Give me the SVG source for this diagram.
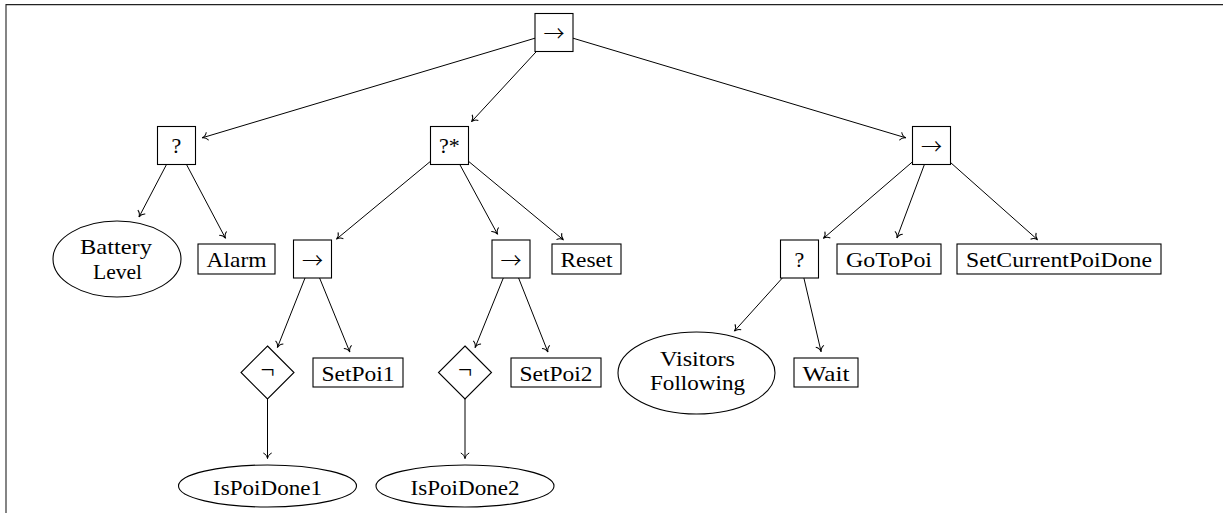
<svg xmlns="http://www.w3.org/2000/svg" width="1223" height="513" viewBox="0 0 1223 513">
<defs>
<marker id="arr" markerUnits="userSpaceOnUse" viewBox="-8 -6 10 12" markerWidth="10" markerHeight="12" refX="0" refY="0" orient="auto" overflow="visible">
<path d="M-5.5,-4.2 C-4.5,-1.8 -2,-0.4 0,0 C-2,0.4 -4.5,1.8 -5.5,4.2" fill="none" stroke="#000" stroke-width="1"/>
</marker>
<style>
.box{fill:#fff;stroke:#000;stroke-width:1.1}
.edge{stroke:#000;stroke-width:1;fill:none;marker-end:url(#arr)}
.t{font-family:"Liberation Serif","DejaVu Serif",serif;font-size:22px;fill:#000;text-anchor:middle}
.op{font-family:"Noto Sans CJK JP","DejaVu Sans",sans-serif;font-size:22px;font-weight:300;fill:#000;text-anchor:middle}
.neg{font-family:"Liberation Serif","DejaVu Serif",serif;font-size:25px;fill:#000;text-anchor:middle}
.frame{fill:none;stroke:#222;stroke-width:1.1}
</style>
</defs>
<rect x="0" y="0" width="1223" height="513" fill="#fff"/>
<path class="frame" d="M6,514 V4.6 H1224"/>
<g id="connectors">
<line class="edge" x1="535" y1="38.2" x2="202.2" y2="137.8"/>
<line class="edge" x1="536.4" y1="51.5" x2="471.5" y2="121.7"/>
<line class="edge" x1="573" y1="38.2" x2="905.8" y2="137.8"/>
<line class="edge" x1="166.5" y1="164.5" x2="139" y2="217"/>
<line class="edge" x1="186.5" y1="164.5" x2="225.5" y2="238.3"/>
<line class="edge" x1="430.5" y1="161.3" x2="336.5" y2="239.1"/>
<line class="edge" x1="459.8" y1="164.5" x2="497.6" y2="234.3"/>
<line class="edge" x1="468.5" y1="161.3" x2="563.4" y2="239.9"/>
<line class="edge" x1="912.5" y1="161.8" x2="823.4" y2="238.4"/>
<line class="edge" x1="924.4" y1="164.5" x2="896.9" y2="237.9"/>
<line class="edge" x1="950.5" y1="162.5" x2="1037.5" y2="239.7"/>
<line class="edge" x1="305" y1="278" x2="277.4" y2="347.5"/>
<line class="edge" x1="319.6" y1="278" x2="349.8" y2="352"/>
<line class="edge" x1="503.3" y1="278" x2="475.1" y2="347.6"/>
<line class="edge" x1="518.6" y1="278" x2="547.9" y2="352"/>
<line class="edge" x1="267.5" y1="399" x2="267.5" y2="458.5"/>
<line class="edge" x1="465" y1="399" x2="465" y2="458.5"/>
<line class="edge" x1="782.3" y1="278" x2="734.4" y2="331.1"/>
<line class="edge" x1="803.9" y1="278" x2="821.1" y2="351.7"/>
</g>
<g id="root"><rect class="box" x="535" y="13.5" width="38" height="38"/><text class="op" x="554" y="41" textLength="21" lengthAdjust="spacingAndGlyphs">→</text></g>
<g id="fallback1"><rect class="box" x="157.5" y="126.5" width="38" height="38"/><text class="t" x="176.5" y="153">?</text></g>
<g id="fallbackStar"><rect class="box" x="430.5" y="126.5" width="38" height="38"/><text class="t" x="449.5" y="153">?*</text></g>
<g id="seqRight"><rect class="box" x="912.5" y="126.5" width="38" height="38"/><text class="op" x="931.5" y="154" textLength="21" lengthAdjust="spacingAndGlyphs">→</text></g>
<g id="batteryLevel"><ellipse class="box" cx="117" cy="259" rx="64" ry="38"/><text class="t" x="116" y="254.3" textLength="72" lengthAdjust="spacingAndGlyphs">Battery</text><text class="t" x="117.5" y="279.3" textLength="49" lengthAdjust="spacingAndGlyphs">Level</text></g>
<g id="alarm"><rect class="box" x="198" y="244" width="77" height="30"/><text class="t" x="236.5" y="267.3" textLength="60" lengthAdjust="spacingAndGlyphs">Alarm</text></g>
<g id="seqA"><rect class="box" x="293.5" y="240" width="38" height="38"/><text class="op" x="312.5" y="267.5" textLength="21" lengthAdjust="spacingAndGlyphs">→</text></g>
<g id="seqB"><rect class="box" x="492" y="240" width="38" height="38"/><text class="op" x="511" y="267.5" textLength="21" lengthAdjust="spacingAndGlyphs">→</text></g>
<g id="reset"><rect class="box" x="552" y="244" width="69" height="30"/><text class="t" x="586.5" y="267.3" textLength="52" lengthAdjust="spacingAndGlyphs">Reset</text></g>
<g id="fallback2"><rect class="box" x="780.5" y="240" width="38" height="38"/><text class="t" x="799.5" y="266.5">?</text></g>
<g id="goToPoi"><rect class="box" x="837" y="244" width="104" height="30"/><text class="t" x="889" y="267.3" textLength="86" lengthAdjust="spacingAndGlyphs">GoToPoi</text></g>
<g id="setCurrentPoiDone"><rect class="box" x="957" y="244" width="204" height="30"/><text class="t" x="1059" y="267.3" textLength="186" lengthAdjust="spacingAndGlyphs">SetCurrentPoiDone</text></g>
<g id="not1"><polygon class="box" points="267.5,346 294,372.5 267.5,399 241,372.5"/><text class="neg" x="267.5" y="378">¬</text></g>
<g id="setPoi1"><rect class="box" x="313" y="358" width="90" height="29"/><text class="t" x="358" y="380.7" textLength="73" lengthAdjust="spacingAndGlyphs">SetPoi1</text></g>
<g id="not2"><polygon class="box" points="465,346 491.5,372.5 465,399 438.5,372.5"/><text class="neg" x="465" y="378">¬</text></g>
<g id="setPoi2"><rect class="box" x="511" y="358" width="90" height="29"/><text class="t" x="556" y="380.7" textLength="73" lengthAdjust="spacingAndGlyphs">SetPoi2</text></g>
<g id="visitorsFollowing"><ellipse class="box" cx="696.5" cy="373" rx="78.5" ry="41"/><text class="t" x="697.5" y="366" textLength="75" lengthAdjust="spacingAndGlyphs">Visitors</text><text class="t" x="697.5" y="390" textLength="95" lengthAdjust="spacingAndGlyphs">Following</text></g>
<g id="wait"><rect class="box" x="794" y="358" width="64" height="29"/><text class="t" x="826" y="380.7" textLength="47" lengthAdjust="spacingAndGlyphs">Wait</text></g>
<g id="isPoiDone1"><ellipse class="box" cx="267.5" cy="486" rx="89" ry="21"/><text class="t" x="267.5" y="495" textLength="109" lengthAdjust="spacingAndGlyphs">IsPoiDone1</text></g>
<g id="isPoiDone2"><ellipse class="box" cx="465" cy="486" rx="89" ry="21"/><text class="t" x="465" y="495" textLength="109" lengthAdjust="spacingAndGlyphs">IsPoiDone2</text></g>
</svg>
